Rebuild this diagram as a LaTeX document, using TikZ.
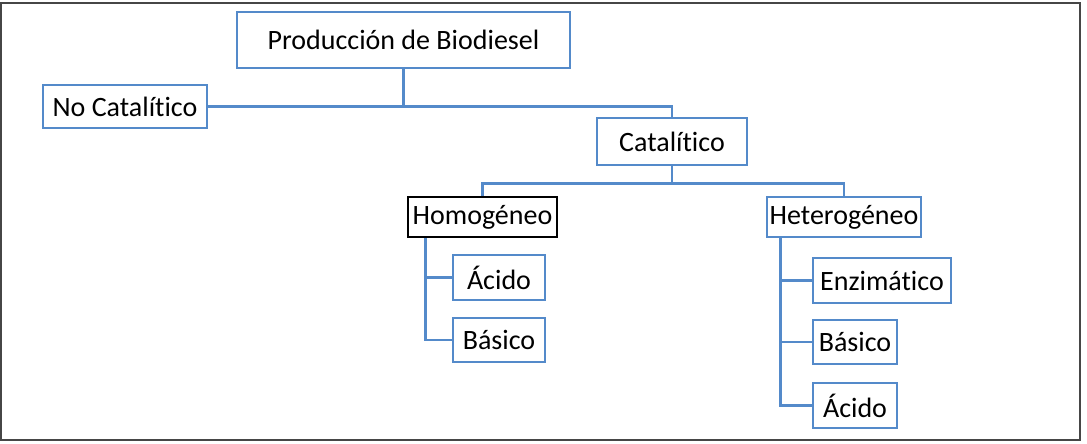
\documentclass[tikz,border=0pt]{standalone}
\usepackage{fontspec}
\setmainfont{Carlito}[Ligatures={NoCommon}]
\usetikzlibrary{positioning, calc}

\definecolor{boxblue}{RGB}{84,138,202}
\definecolor{framegray}{RGB}{70,70,70}

\begin{document}
\begin{tikzpicture}[
    x=0.5pt, y=-0.5pt,
    box/.style={rectangle, draw=boxblue, line width=1.3pt, inner sep=0pt, font=\fontsize{14}{16}\selectfont},
    blackbox/.style={box, draw=black},
    line/.style={draw=boxblue, line width=1.3pt},
]
\useasboundingbox (0,0) rectangle (1087,444);
\draw[framegray, line width=1.2pt] (1,3) rectangle (1080,440);

%% NODES
    % root
    \node[box, minimum width=166.5pt, minimum height=28pt] (prod) at (403.5,40) {Producción de Biodiesel};
    \node[box, minimum width=82pt, minimum height=21.5pt] (nocat) at (125,106.5) {No Catalítico};
    \node[box, minimum width=75pt, minimum height=23.5pt] (cat) at (672,141.5) {Catalítico};

    % homogeneous
    \node[blackbox, minimum width=74.5pt, minimum height=20pt] (homo) at (482.5,217) {Homogéneo};
    \node[box, minimum width=46pt, minimum height=22.5pt] (acido_homo) at (499,277.5) {Ácido};
    \node[box, minimum width=46pt, minimum height=22pt] (basico_homo) at (499,340) {Básico};

    % heterogeneous
    \node[box, minimum width=77pt, minimum height=20pt] (hetero) at (844,217) {Heterogéneo};
    \node[box, minimum width=69pt, minimum height=22.5pt] (enzi_hetero) at (882,280.5) {Enzimático};
    \node[box, minimum width=42pt, minimum height=22pt] (basico_hetero) at (855,342) {Básico};
    \node[box, minimum width=42pt, minimum height=22.5pt] (acido_hetero) at (855,405.5) {Ácido};

%% CONNECTIONS
    % root -> No Catalitico / Catalitico
    \draw[line] (prod.south) -- (prod.south |- nocat.east);
    \draw[line] (nocat.east) -| (cat.north);

    % Catalitico -> Homogeneo / Heterogeneo
    \coordinate (cat_join) at ($(cat.south)+(0,17)$);
    \draw[line] (cat.south) -- (cat_join);
    \draw[line] (homo.north) |- (cat_join) -| (hetero.north);

    % Homogeneo -> children
    \coordinate (homo_trunk) at ($(homo.south west)+(19,0)$);
    \draw[line] (homo_trunk) |- (basico_homo.west);
    \draw[line] (homo_trunk |- acido_homo.west) -- (acido_homo.west);

    % Heterogeneo -> children
    \coordinate (hetero_trunk) at ($(hetero.south west)+(15,0)$);
    \draw[line] (hetero_trunk) |- (acido_hetero.west);
    \draw[line] (hetero_trunk |- enzi_hetero.west) -- (enzi_hetero.west);
    \draw[line] (hetero_trunk |- basico_hetero.west) -- (basico_hetero.west);

\end{tikzpicture}
\end{document}
